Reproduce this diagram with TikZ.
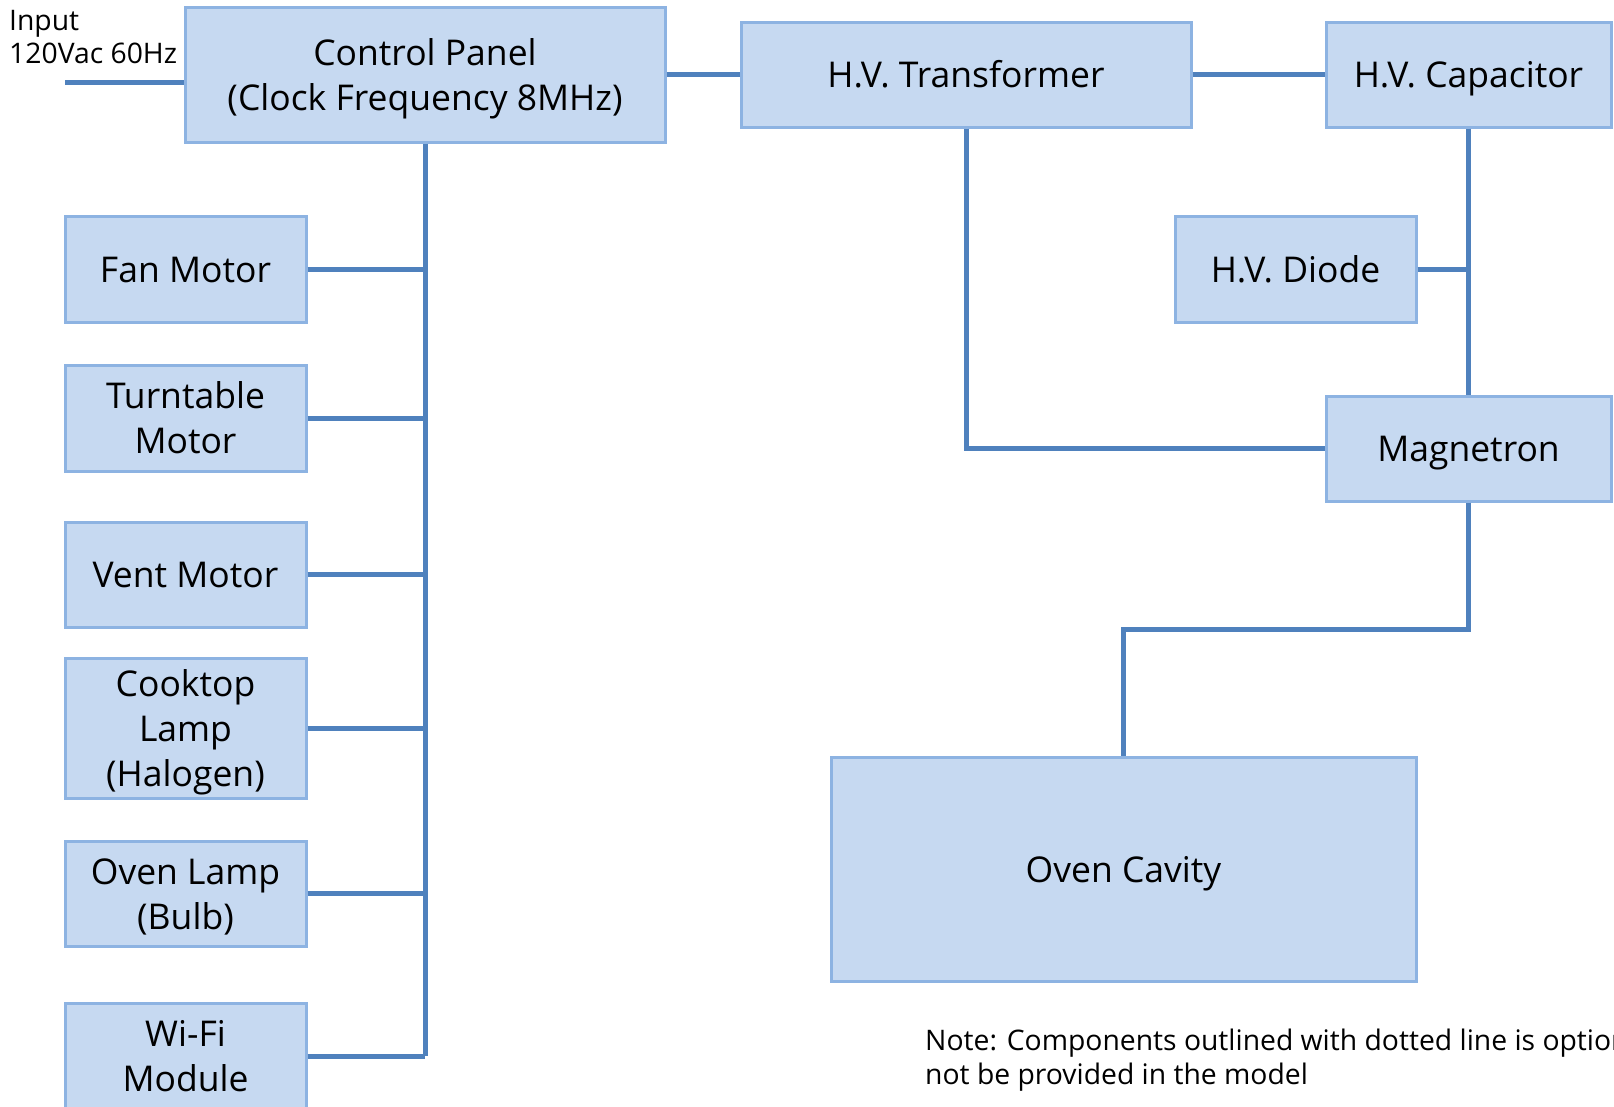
\documentclass[tikz,border=0pt]{standalone}
\usepackage{fontspec}
\setmainfont{Open Sans}
\definecolor{boxfill}{HTML}{C6D9F1}
\definecolor{boxline}{HTML}{8DB3E2}
\definecolor{wire}{HTML}{4F81BD}
\newcommand\tl[1]{\raisebox{0pt}[33pt][7pt]{#1}}
\begin{document}
\begin{tikzpicture}[x=1pt,y=-1pt,
  blk/.style={draw=boxline, fill=boxfill, line width=3pt, inner sep=0pt, align=center,
    font=\fontsize{35.5}{45}\selectfont},
  conn/.style={draw=wire, line width=5pt},
  small/.style={inner sep=0pt, align=left, font=\fontsize{28.3}{33.5}\selectfont}]
\useasboundingbox (0,0) rectangle (1614,1106);
\clip (0,0) rectangle (1614,1106);
% boxes
\node[blk, minimum width=480pt, minimum height=135pt] (cp) at (425,74.5) {\tl{Control Panel}\\\tl{(Clock Frequency 8MHz)}};
\node[blk, minimum width=450pt, minimum height=105pt] (hvt) at (966,74.5) {\tl{H.V. Transformer}};
\node[blk, minimum width=285pt, minimum height=105pt] (cap) at (1468.5,74.5) {\tl{H.V. Capacitor}};
\node[blk, minimum width=241pt, minimum height=106pt] (diode) at (1295.5,269) {\tl{H.V. Diode}};
\node[blk, minimum width=285pt, minimum height=105pt] (mag) at (1468.5,448.5) {\tl{Magnetron}};
\node[blk, minimum width=585pt, minimum height=224pt] (cav) at (1123.5,869) {\tl{Oven Cavity}};
\node[blk, minimum width=241pt, minimum height=106pt] (fan) at (185.5,269) {\tl{Fan Motor}};
\node[blk, minimum width=241pt, minimum height=106pt] (turn) at (185.5,418) {\tl{Turntable}\\\tl{Motor}};
\node[blk, minimum width=241pt, minimum height=105pt] (vent) at (185.5,574.5) {\tl{Vent Motor}};
\node[blk, minimum width=241pt, minimum height=140pt] (cook) at (185.5,728) {\tl{Cooktop}\\\tl{Lamp}\\\tl{(Halogen)}};
\node[blk, minimum width=241pt, minimum height=105pt] (lamp) at (185.5,893.5) {\tl{Oven Lamp}\\\tl{(Bulb)}};
\node[blk, minimum width=241pt, minimum height=106pt] (wifi) at (185.5,1056) {\tl{Wi-Fi}\\\tl{Module}};
% texts
\node[small, anchor=west] (inp) at (9,37) {Input\\120Vac 60Hz};
\node[small, anchor=west] (note) at (925,1060) {Note: Components outlined with dotted line is option\\not be provided in the model};
% connectors
\coordinate (in0) at (65,82);
\draw[conn] (in0) -- (in0 -| cp.west);
\coordinate (busend) at (425,1056);
\draw[conn] (cp.south) -- (busend);
\draw[conn] (fan.east) -- (fan.east -| cp.south);
\draw[conn] (turn.east) -- (turn.east -| cp.south);
\draw[conn] (vent.east) -- (vent.east -| cp.south);
\draw[conn] (cook.east) -- (cook.east -| cp.south);
\draw[conn] (lamp.east) -- (lamp.east -| cp.south);
\draw[conn] (wifi.east) -- (busend);
\draw[conn] (cp.east) -- (hvt.west);
\draw[conn] (hvt.east) -- (cap.west);
\draw[conn] (hvt.south) |- (mag.west);
\draw[conn] (cap.south) -- (mag.north);
\draw[conn] (diode.east) -- (diode.east -| cap.south);
\coordinate (j) at (1123.5,629);
\draw[conn] (mag.south) |- (j) -- (cav.north);
\end{tikzpicture}
\end{document}
